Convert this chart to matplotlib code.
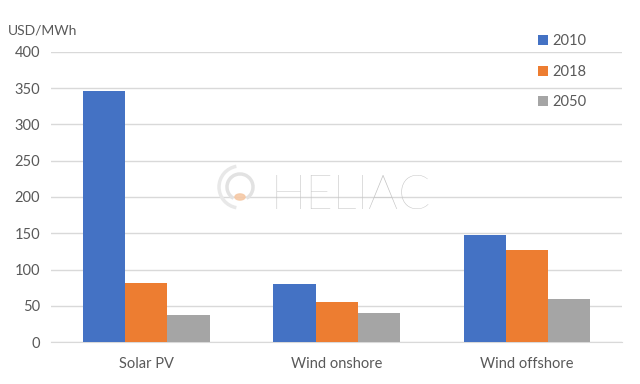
import matplotlib
matplotlib.use("Agg")
import matplotlib.pyplot as plt
import numpy as np
from matplotlib.patches import Arc, Circle

categories = ["Solar PV", "Wind onshore", "Wind offshore"]
series_names = ["2010", "2018", "2050"]
values_2010 = [346, 80, 147]
values_2018 = [81, 55, 127]
values_2050 = [37, 40, 59]
yticks = [0, 50, 100, 150, 200, 250, 300, 350, 400]
colors = ["#4472C4", "#ED7D31", "#A5A5A5"]

plt.rcParams['font.family'] = ['Lato', 'DejaVu Sans']
text_color = "#595959"

fig = plt.figure(figsize=(6.4, 3.84), dpi=100)
ax = fig.add_axes([0.08, 0.109, 0.892, 0.756])

x = np.arange(len(categories))
w = 0.222
for i, (name, vals) in enumerate(zip(series_names, [values_2010, values_2018, values_2050])):
    ax.bar(x + (i - 1) * w, vals, width=w, color=colors[i], label=name, zorder=3)

ax.set_xlim(-0.5, 2.5)
ax.set_ylim(0, 400)
ax.set_yticks(yticks)
ax.set_xticks(x)
ax.set_xticklabels(categories)
ax.grid(axis='y', color='#D9D9D9', linewidth=1, zorder=0)
ax.tick_params(axis='both', length=0, colors=text_color, labelsize=10.5)
ax.tick_params(axis='x', pad=11)
ax.tick_params(axis='y', pad=8)
for s in ['top', 'right', 'left']:
    ax.spines[s].set_visible(False)
ax.spines['bottom'].set_color('#D9D9D9')

fig.text(0.012, 0.905, "USD/MWh", color=text_color, fontsize=10, va='bottom')

leg = ax.legend(loc='upper left', bbox_to_anchor=(0.83, 1.105), frameon=False,
                handlelength=0.7, handleheight=0.7, handletextpad=0.3,
                labelspacing=1.12, fontsize=10.5)
for t in leg.get_texts():
    t.set_color(text_color)

# watermark
fig.text(0.548, 0.487, "HELIAC", fontsize=34, color='#C4C4C4', ha='center', va='center',
         fontweight='light')
cx, cy = 0.375, 0.487
fig.add_artist(Circle((cx, cy), 0.008, transform=fig.transFigure, color='#F5C9A6', alpha=0.9))
fig.add_artist(Arc((240, 197), 26, 26, theta1=-60, theta2=240, transform=None,
                   ec='#E2E2E2', lw=2.5))
fig.add_artist(Arc((240, 197), 42, 42, theta1=100, theta2=260, transform=None,
                   ec='#E8E8E8', lw=2.5))

fig.savefig("out.png", dpi=100)
